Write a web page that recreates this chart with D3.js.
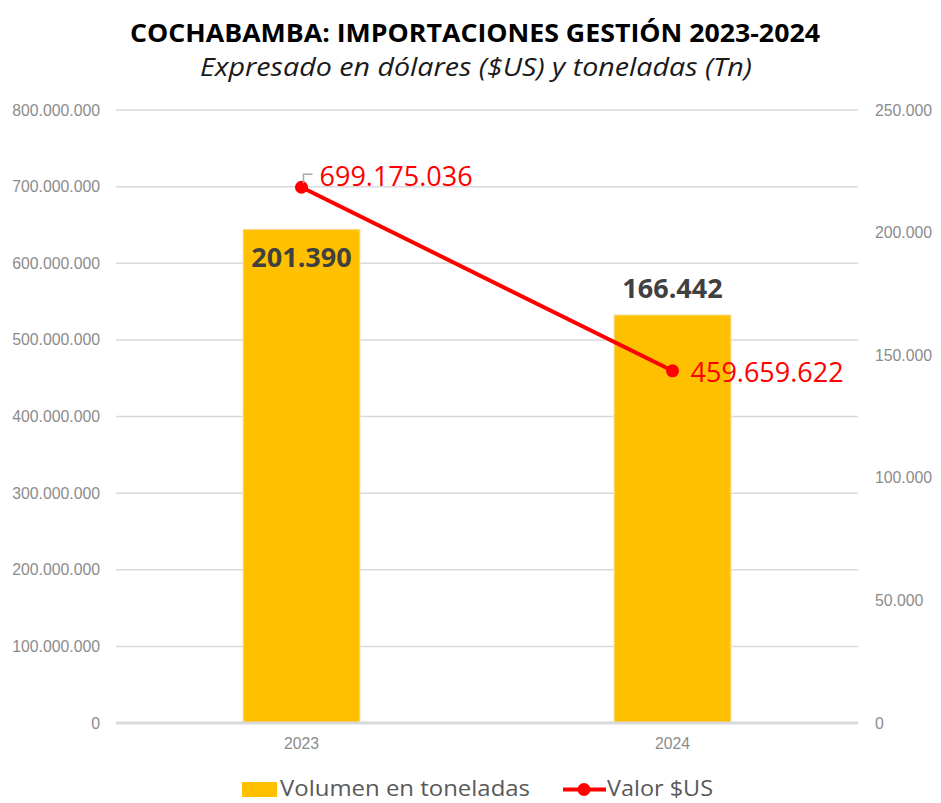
<!DOCTYPE html>
<html><head><meta charset="utf-8">
<script src="https://cdn.jsdelivr.net/npm/d3@7"></script>
<style>body{margin:0;background:#fff;} svg{display:block;}</style>
</head><body>
<script>
const categories = ["2023", "2024"];
const volumenTn = [201390, 166442];
const valorUSD = [699175036, 459659622];
const leftTicks = [0,100000000,200000000,300000000,400000000,500000000,600000000,700000000,800000000];
const rightTicks = [0,50000,100000,150000,200000,250000];
const title = "COCHABAMBA: IMPORTACIONES GESTIÓN 2023-2024";
const subtitle = "Expresado en dólares ($US) y toneladas (Tn)";
const seriesNames = ["Volumen en toneladas", "Valor $US"];

const W = 941, H = 803;
const fmt = d3.formatLocale({decimal:",", thousands:".", grouping:[3], currency:["$",""]}).format(",d");
const svg = d3.select("body").append("svg").attr("width", W).attr("height", H);
const axFont = "Liberation Sans, Arial, sans-serif";
const lblFont = "Open Sans, sans-serif";
const axColor = "#8c8c8c";

const x = d3.scaleBand().domain(categories).range([116, 858]);
const yL = d3.scaleLinear().domain([0, 800000000]).range([723, 110]);
const yR = d3.scaleLinear().domain([0, 250000]).range([723, 110]);

// gridlines
svg.append("g").selectAll("line").data(leftTicks.slice(1)).join("line")
  .attr("x1", 116).attr("x2", 858).attr("y1", d => yL(d)).attr("y2", d => yL(d))
  .attr("stroke", "#d9d9d9").attr("stroke-width", 1.5);

// left axis
const gL = svg.append("g").attr("transform", "translate(100,0)")
  .call(d3.axisLeft(yL).tickValues(leftTicks).tickFormat(fmt).tickSize(0).tickPadding(0));
gL.select(".domain").remove();
gL.selectAll("text").attr("font-family", axFont).attr("font-size", 15.8).attr("fill", axColor);

// right axis
const gR = svg.append("g").attr("transform", "translate(875,0)")
  .call(d3.axisRight(yR).tickValues(rightTicks).tickFormat(fmt).tickSize(0).tickPadding(0));
gR.select(".domain").remove();
gR.selectAll("text").attr("font-family", axFont).attr("font-size", 15.8).attr("fill", axColor);

// bars
const bw = 117;
svg.append("g").selectAll("rect").data(categories).join("rect")
  .attr("x", d => x(d) + x.bandwidth()/2 - bw/2)
  .attr("width", bw)
  .attr("y", (d,i) => yR(volumenTn[i]))
  .attr("height", (d,i) => yR(0) - yR(volumenTn[i]))
  .attr("fill", "#ffc000").attr("stroke", "#f2e6c0").attr("stroke-width", 1);

// zero axis line
svg.append("line").attr("x1", 116).attr("x2", 858).attr("y1", yL(0)).attr("y2", yL(0))
  .attr("stroke", "#d9d9d9").attr("stroke-width", 3);

// category labels
const gX = svg.append("g").attr("transform", `translate(0,${yL(0)})`)
  .call(d3.axisBottom(x).tickSize(0).tickPadding(15));
gX.select(".domain").remove();
gX.selectAll("text").attr("font-family", axFont).attr("font-size", 15.8).attr("fill", axColor);

// line
const cx = d => x(d) + x.bandwidth()/2;
svg.append("path").datum(categories)
  .attr("d", d3.line().x(d => cx(d)).y((d,i) => yL(valorUSD[i])))
  .attr("fill", "none").attr("stroke", "#ff0000").attr("stroke-width", 4);
svg.append("g").selectAll("circle").data(categories).join("circle")
  .attr("cx", d => cx(d)).attr("cy", (d,i) => yL(valorUSD[i])).attr("r", 6.5).attr("fill", "#ff0000");

// bar labels
svg.append("g").selectAll("text").data(categories).join("text")
  .attr("x", d => cx(d))
  .attr("y", (d,i) => i === 0 ? yR(volumenTn[i]) + 38 : yR(volumenTn[i]) - 17)
  .attr("text-anchor", "middle")
  .attr("font-family", lblFont).attr("font-weight", "bold").attr("font-size", 27)
  .attr("fill", "#404040")
  .text((d,i) => fmt(volumenTn[i]));

// line labels
svg.append("g").selectAll("text").data(categories).join("text")
  .attr("x", d => cx(d) + 18)
  .attr("y", (d,i) => i === 0 ? yL(valorUSD[i]) - 1 : yL(valorUSD[i]) + 11)
  .attr("font-family", lblFont).attr("font-size", 27)
  .attr("fill", "#ff0000")
  .text((d,i) => fmt(valorUSD[i]));
// small leader mark near first label
const p0x = cx(categories[0]), p0y = yL(valorUSD[0]);
svg.append("path").attr("d", `M${p0x+2},${p0y-4} L${p0x+2},${p0y-13} L${p0x+11},${p0y-13}`)
  .attr("fill","none").attr("stroke","#a6a6a6").attr("stroke-width",1.5);

// title
svg.append("text").attr("x", 475).attr("y", 42).attr("text-anchor", "middle")
  .attr("font-family", lblFont).attr("font-weight", "bold").attr("font-size", 25)
  .attr("textLength", 690).attr("lengthAdjust", "spacingAndGlyphs")
  .attr("fill", "#000").text(title);
svg.append("text").attr("x", 476).attr("y", 76).attr("text-anchor", "middle")
  .attr("font-family", lblFont).attr("font-style", "italic").attr("font-size", 25)
  .attr("textLength", 552).attr("lengthAdjust", "spacingAndGlyphs")
  .attr("fill", "#1a1a1a").text(subtitle);

// legend
const lg = svg.append("g");
lg.append("rect").attr("x", 242).attr("y", 782).attr("width", 35).attr("height", 15).attr("fill", "#ffc000");
lg.append("text").attr("x", 280).attr("y", 796).attr("font-family", lblFont).attr("font-size", 22)
  .attr("textLength", 250).attr("lengthAdjust", "spacingAndGlyphs")
  .attr("fill", "#595959").text(seriesNames[0]);
lg.append("line").attr("x1", 563).attr("x2", 606).attr("y1", 789.5).attr("y2", 789.5).attr("stroke", "#ff0000").attr("stroke-width", 4);
lg.append("circle").attr("cx", 584).attr("cy", 789.5).attr("r", 6.5).attr("fill", "#ff0000");
lg.append("text").attr("x", 607).attr("y", 796).attr("font-family", lblFont).attr("font-size", 22)
  .attr("textLength", 106).attr("lengthAdjust", "spacingAndGlyphs")
  .attr("fill", "#595959").text(seriesNames[1]);
</script>
</body></html>
